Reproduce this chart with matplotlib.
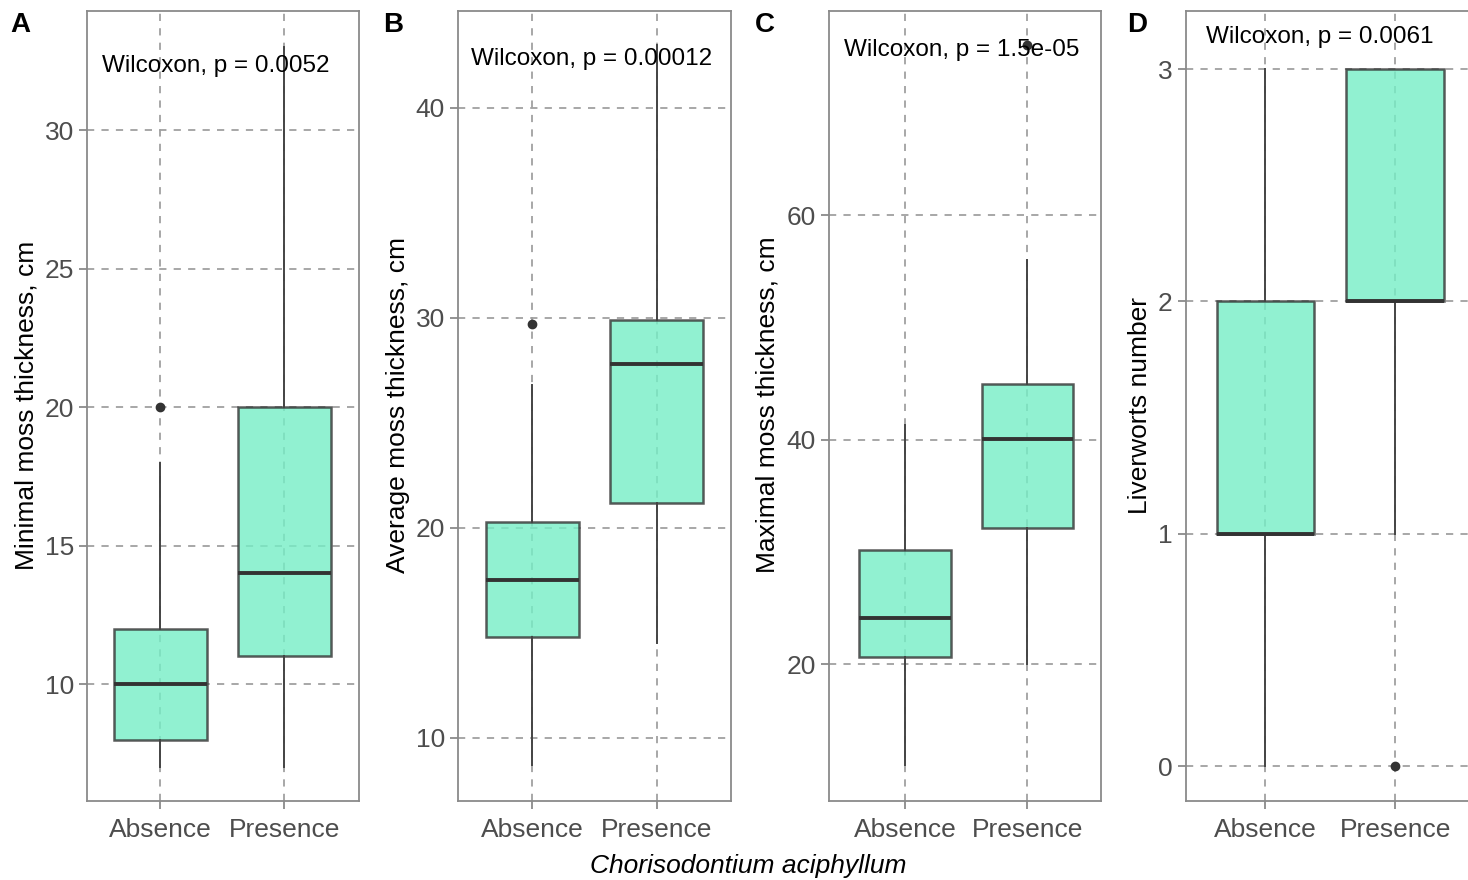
import matplotlib
matplotlib.use("Agg")
import matplotlib.pyplot as plt

plt.rcParams['font.family'] = ['Liberation Sans', 'DejaVu Sans']

categories = ["Absence", "Presence"]
panel_letters = ["A", "B", "C", "D"]
ylabels = ["Minimal moss thickness, cm", "Average moss thickness, cm",
           "Maximal moss thickness, cm", "Liverworts number"]
pvalue_texts = ["Wilcoxon, p = 0.0052", "Wilcoxon, p = 0.00012",
                "Wilcoxon, p = 1.5e-05", "Wilcoxon, p = 0.0061"]
xlabel = "Chorisodontium aciphyllum"

# box stats per panel: [Absence, Presence]
whislo = [[7.0, 7.0], [8.7, 14.5], [11.0, 20.0], [0.0, 1.0]]
q1 = [[8.0, 11.0], [14.8, 21.2], [20.6, 32.1], [1.0, 2.0]]
med = [[10.0, 14.0], [17.5, 27.8], [24.1, 40.1], [1.0, 2.0]]
q3 = [[12.0, 20.0], [20.3, 29.9], [30.2, 45.0], [2.0, 3.0]]
whishi = [[18.0, 33.0], [26.8, 43.0], [41.3, 56.0], [3.0, 3.0]]
outliers = [[[20.0], []], [[29.7], []], [[], [75.2]], [[], [0.0]]]

yticks = [[10, 15, 20, 25, 30], [10, 20, 30, 40], [20, 40, 60], [0, 1, 2, 3]]
ylims = [(5.78, 34.3), (7.0, 44.6), (7.8, 78.2), (-0.15, 3.25)]
xlims = [(0.41, 2.6), (0.4, 2.6), (0.38, 2.6), (0.39, 2.6)]
text_pos = [(1.45, 32.3), (1.48, 42.3), (1.46, 74.7), (1.42, 3.14)]

W, H = 1468, 880
fig = plt.figure(figsize=(W / 100, H / 100), dpi=100)

lefts = [87, 458, 829, 1186]
widths = [272, 273, 272, 287]
top, bottom = 11, 801
ylab_x = [27, 398, 768, 1140]
letter_x = [20, 393, 765, 1137]

frame_col = '#8a8a8a'
tick_col = '#4D4D4D'
box_edge = '#333333'

for i in range(4):
    ax = fig.add_axes([lefts[i] / W, 1 - bottom / H, widths[i] / W, (bottom - top) / H])
    stats = []
    for j in range(2):
        stats.append(dict(med=med[i][j], q1=q1[i][j], q3=q3[i][j],
                          whislo=whislo[i][j], whishi=whishi[i][j],
                          fliers=outliers[i][j], label=categories[j]))
    ax.set_axisbelow(True)
    ax.grid(True, color='#a0a0a0', linestyle=(0, (4, 4)), linewidth=1.3)
    ax.bxp(stats, positions=[1, 2], widths=0.75, patch_artist=True,
           showcaps=False,
           boxprops=dict(facecolor='#76EEC6', alpha=0.8, edgecolor=box_edge, linewidth=1.8),
           medianprops=dict(color=box_edge, linewidth=2.8),
           whiskerprops=dict(color='#444444', linewidth=1.4),
           flierprops=dict(marker='o', markerfacecolor=box_edge, markeredgecolor=box_edge,
                           markersize=6))
    for p in ax.patches:
        p.set_edgecolor(box_edge)
    ax.set_xlim(*xlims[i])
    ax.set_ylim(*ylims[i])
    ax.set_yticks(yticks[i])
    ax.set_xticks([1, 2])
    ax.set_xticklabels(categories)
    ax.tick_params(axis='both', colors=frame_col, labelcolor=tick_col, labelsize=19,
                   length=6, width=1.3)
    ax.tick_params(axis='x', pad=6)
    for s in ax.spines.values():
        s.set_color(frame_col)
        s.set_linewidth(1.3)
    ax.text(text_pos[i][0], text_pos[i][1], pvalue_texts[i], ha='center', va='center',
            fontsize=17.5, color='black')
    fig.text(ylab_x[i] / W, 1 - 405 / H, ylabels[i], rotation=90, ha='center',
             va='center', fontsize=19, color='black')
    fig.text(letter_x[i] / W, 1 - 25 / H, panel_letters[i], ha='center', va='center',
             fontsize=20, fontweight='bold', color='black')

fig.text(748 / W, 1 - 866 / H, xlabel, ha='center', va='center', fontsize=19,
         style='italic', color='black')

fig.savefig('out.png', dpi=100)
